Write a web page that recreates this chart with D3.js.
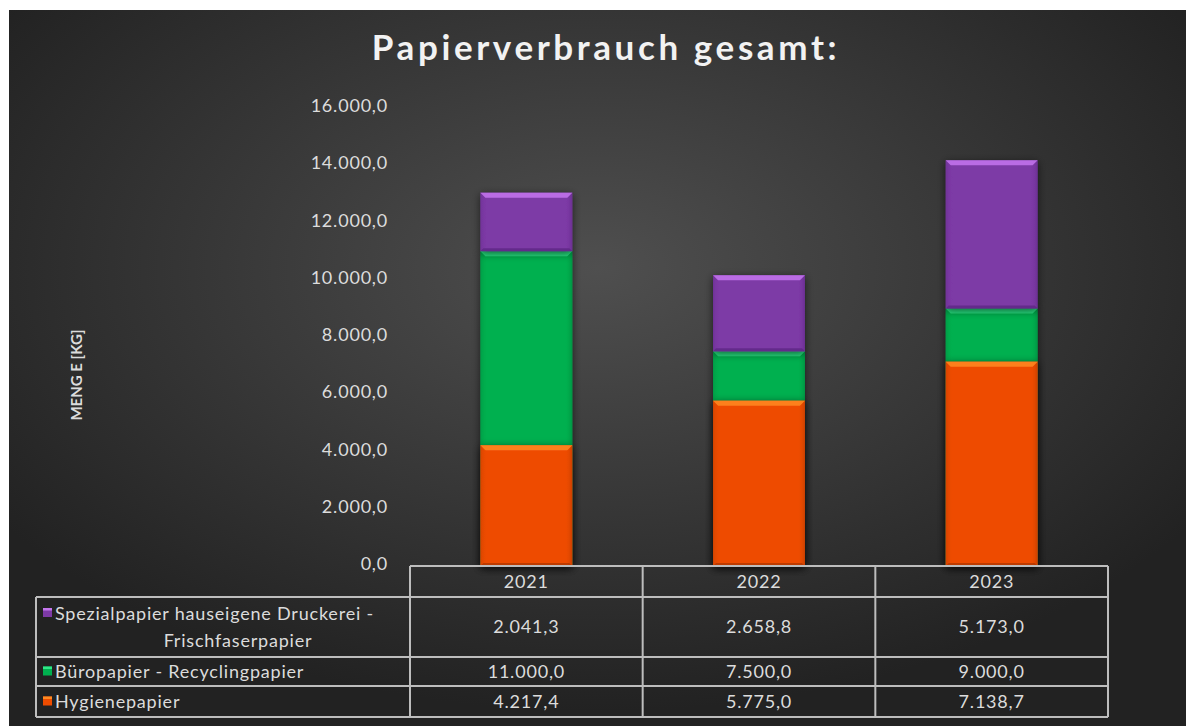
<!DOCTYPE html>
<html lang="de">
<head>
    <meta charset="UTF-8">
    <title>Papierverbrauch gesamt</title>
    <script src="https://d3js.org/d3.v7.min.js"></script>
    <style>
        html, body { margin: 0; padding: 0; background: #fff; }
        svg { display: block; }
        text { font-family: Lato, "Open Sans", sans-serif; }
    </style>
</head>
<body>
<svg id="chart" width="1186" height="726"></svg>
<script>
    // data
    const years = ['2021', '2022', '2023'];
    const seriesNames = ['Spezialpapier hauseigene Druckerei - Frischfaserpapier', 'Büropapier - Recyclingpapier', 'Hygienepapier'];
    const spezial = [2041.3, 2658.8, 5173.0];
    const buero = [11000.0, 7500.0, 9000.0];
    const hygiene = [4217.4, 5775.0, 7138.7];
    const yTicks = [0, 2000, 4000, 6000, 8000, 10000, 12000, 14000, 16000];

    const width = 1186, height = 726;
    const plot = { left: 410, right: 1108, top: 108, bottom: 566 };
    const colors = { spezial: '#7d3aa6', buero: '#00b04f', hygiene: '#ee4c00' };
    const light = { spezial: '#c476ee', buero: '#2ee887', hygiene: '#ff8a22' };
    const dark = { spezial: '#5a2580', buero: '#007a36', hygiene: '#a83300' };
    const textColor = '#dcdcdc';

    const de = d3.formatLocale({ decimal: ',', thousands: '.', grouping: [3], currency: ['', ' €'] });
    const fmt = de.format(',.1f');

    const svg = d3.select('#chart');
    const defs = svg.append('defs');

    // background
    const bg = defs.append('radialGradient').attr('id', 'bg')
        .attr('cx', '50%').attr('cy', '36%').attr('r', '62%');
    bg.append('stop').attr('offset', '0%').attr('stop-color', '#4f4f4f');
    bg.append('stop').attr('offset', '100%').attr('stop-color', '#222');

    const shadow = defs.append('filter').attr('id', 'shadow')
        .attr('x', '-20%').attr('y', '-20%').attr('width', '140%').attr('height', '140%');
    shadow.append('feGaussianBlur').attr('in', 'SourceAlpha').attr('stdDeviation', 4).attr('result', 'b');
    shadow.append('feOffset').attr('dx', 0).attr('dy', 2).attr('result', 'o');
    shadow.append('feComponentTransfer').append('feFuncA').attr('type', 'linear').attr('slope', 0.6);
    const merge = shadow.append('feMerge');
    merge.append('feMergeNode');
    merge.append('feMergeNode').attr('in', 'SourceGraphic');

    Object.keys(colors).forEach(k => {
        const g = defs.append('linearGradient').attr('id', 'side-' + k)
            .attr('x1', '0%').attr('x2', '100%');
        g.append('stop').attr('offset', '0%').attr('stop-color', dark[k]).attr('stop-opacity', 0.35);
        g.append('stop').attr('offset', '8%').attr('stop-color', colors[k]).attr('stop-opacity', 0);
        g.append('stop').attr('offset', '92%').attr('stop-color', colors[k]).attr('stop-opacity', 0);
        g.append('stop').attr('offset', '100%').attr('stop-color', dark[k]).attr('stop-opacity', 0.5);
    });

    svg.append('rect').attr('x', 9).attr('y', 10).attr('width', width - 9).attr('height', height - 10)
        .attr('fill', 'url(#bg)');

    // title
    svg.append('text')
        .attr('x', 606).attr('y', 60)
        .attr('text-anchor', 'middle')
        .attr('font-size', '35px').attr('font-weight', 700)
        .attr('letter-spacing', '3.6px')
        .attr('fill', '#f2f2f2')
        .text('Papierverbrauch gesamt:');

    // scales
    const x = d3.scaleBand().domain(years).range([plot.left, plot.right]).paddingInner(0).paddingOuter(0);
    const barW = x.bandwidth() * 0.395;
    const y = d3.scaleLinear().domain([0, 16000]).range([plot.bottom, plot.top]);

    // y axis labels
    const yAxis = svg.append('g')
        .attr('transform', `translate(${388 + 8},0)`)
        .call(d3.axisLeft(y).tickValues(yTicks).tickFormat(fmt).tickSize(0).tickPadding(8));
    yAxis.select('.domain').remove();
    yAxis.selectAll('text').attr('font-size', '18px').attr('fill', textColor)
        .attr('letter-spacing', '0.8px')
        .attr('font-family', 'Lato, sans-serif').attr('dy', '0.2em');

    svg.append('text')
        .attr('transform', 'translate(82,375) rotate(-90)')
        .attr('text-anchor', 'middle')
        .attr('font-size', '15px').attr('font-weight', 700)
        .attr('fill', textColor)
        .text('MENG E [KG]');

    // segments: green and purple stacked from zero, orange overlapping at the bottom
    const segments = [];
    years.forEach((yr, i) => {
        segments.push({ year: yr, key: 'buero', y0: 0, y1: buero[i] });
        segments.push({ year: yr, key: 'spezial', y0: buero[i], y1: buero[i] + spezial[i] });
        segments.push({ year: yr, key: 'hygiene', y0: 0, y1: hygiene[i] });
    });

    const bars = svg.append('g');
    const seg = bars.selectAll('g.seg').data(segments).enter().append('g').attr('class', 'seg')
        .attr('filter', 'url(#shadow)');

    const bx = d => x(d.year) + (x.bandwidth() - barW) / 2;
    seg.append('rect')
        .attr('x', bx)
        .attr('y', d => y(d.y1))
        .attr('width', barW)
        .attr('height', d => y(d.y0) - y(d.y1))
        .attr('fill', d => colors[d.key]);
    seg.append('rect')
        .attr('x', bx)
        .attr('y', d => y(d.y1))
        .attr('width', barW)
        .attr('height', d => y(d.y0) - y(d.y1))
        .attr('fill', d => `url(#side-${d.key})`);
    // top bevel
    const bev = 5;
    seg.append('path')
        .attr('d', d => {
            const x0 = bx(d), x1 = x0 + barW, t = y(d.y1);
            return `M${x0},${t}L${x1},${t}L${x1 - bev},${t + bev}L${x0 + bev},${t + bev}Z`;
        })
        .attr('fill', d => light[d.key]).attr('opacity', 0.85);
    // bottom bevel
    seg.append('path')
        .attr('d', d => {
            const x0 = bx(d), x1 = x0 + barW, b = y(d.y0);
            return `M${x0},${b}L${x1},${b}L${x1 - 3},${b - 3}L${x0 + 3},${b - 3}Z`;
        })
        .attr('fill', d => dark[d.key]).attr('opacity', 0.7);

    // data table
    const rowH = [31, 60, 29, 31];
    const rowY = [plot.bottom];
    rowH.forEach(h => rowY.push(rowY[rowY.length - 1] + h));
    const tableLeft = 36;
    const lineColor = '#bdbdbd';
    const table = svg.append('g');

    // horizontal lines
    rowY.forEach((yy, i) => {
        table.append('line')
            .attr('x1', i === 0 ? plot.left : tableLeft).attr('x2', plot.right)
            .attr('y1', yy).attr('y2', yy)
            .attr('stroke', lineColor).attr('stroke-width', 2);
    });
    // vertical lines
    const vx = [plot.left].concat(years.map(yr => x(yr) + x.bandwidth()));
    vx.forEach(xx => {
        table.append('line').attr('x1', xx).attr('x2', xx)
            .attr('y1', rowY[0]).attr('y2', rowY[4])
            .attr('stroke', lineColor).attr('stroke-width', 2);
    });
    table.append('line').attr('x1', tableLeft).attr('x2', tableLeft)
        .attr('y1', rowY[1]).attr('y2', rowY[4])
        .attr('stroke', lineColor).attr('stroke-width', 2);

    const cellFont = '18px';
    const cellSpacing = '0.8px';

    // header years
    table.selectAll('.yr').data(years).enter().append('text')
        .attr('x', d => x(d) + x.bandwidth() / 2)
        .attr('y', rowY[0] + 22)
        .attr('text-anchor', 'middle')
        .attr('font-size', cellFont).attr('letter-spacing', cellSpacing).attr('fill', textColor)
        .text(d => d);

    const rows = [
        { key: 'spezial', values: spezial },
        { key: 'buero', values: buero },
        { key: 'hygiene', values: hygiene }
    ];
    rows.forEach((r, ri) => {
        const top = rowY[ri + 1], h = rowH[ri + 1];
        const mid = top + h / 2;
        years.forEach((yr, i) => {
            table.append('text')
                .attr('x', x(yr) + x.bandwidth() / 2)
                .attr('y', mid + 6)
                .attr('text-anchor', 'middle')
                .attr('font-size', cellFont).attr('letter-spacing', cellSpacing).attr('fill', textColor)
                .text(fmt(r.values[i]));
        });
        // legend key
        const ky = ri === 0 ? top + 11 : mid - 5;
        table.append('rect').attr('x', 43).attr('y', ky).attr('width', 9).attr('height', 9)
            .attr('fill', colors[r.key]);
        table.append('rect').attr('x', 43).attr('y', ky).attr('width', 9).attr('height', 2.5)
            .attr('fill', light[r.key]);
    });

    // legend labels
    const labels = table.append('g').attr('font-size', cellFont).attr('letter-spacing', cellSpacing)
        .attr('fill', textColor);
    labels.append('text').attr('x', 55).attr('y', rowY[1] + 23).text('Spezialpapier hauseigene Druckerei -');
    labels.append('text').attr('x', 238).attr('y', rowY[1] + 50).attr('text-anchor', 'middle').text('Frischfaserpapier');
    labels.append('text').attr('x', 55).attr('y', rowY[2] + 21).text(seriesNames[1]);
    labels.append('text').attr('x', 55).attr('y', rowY[3] + 22).text(seriesNames[2]);
</script>
</body>
</html>
